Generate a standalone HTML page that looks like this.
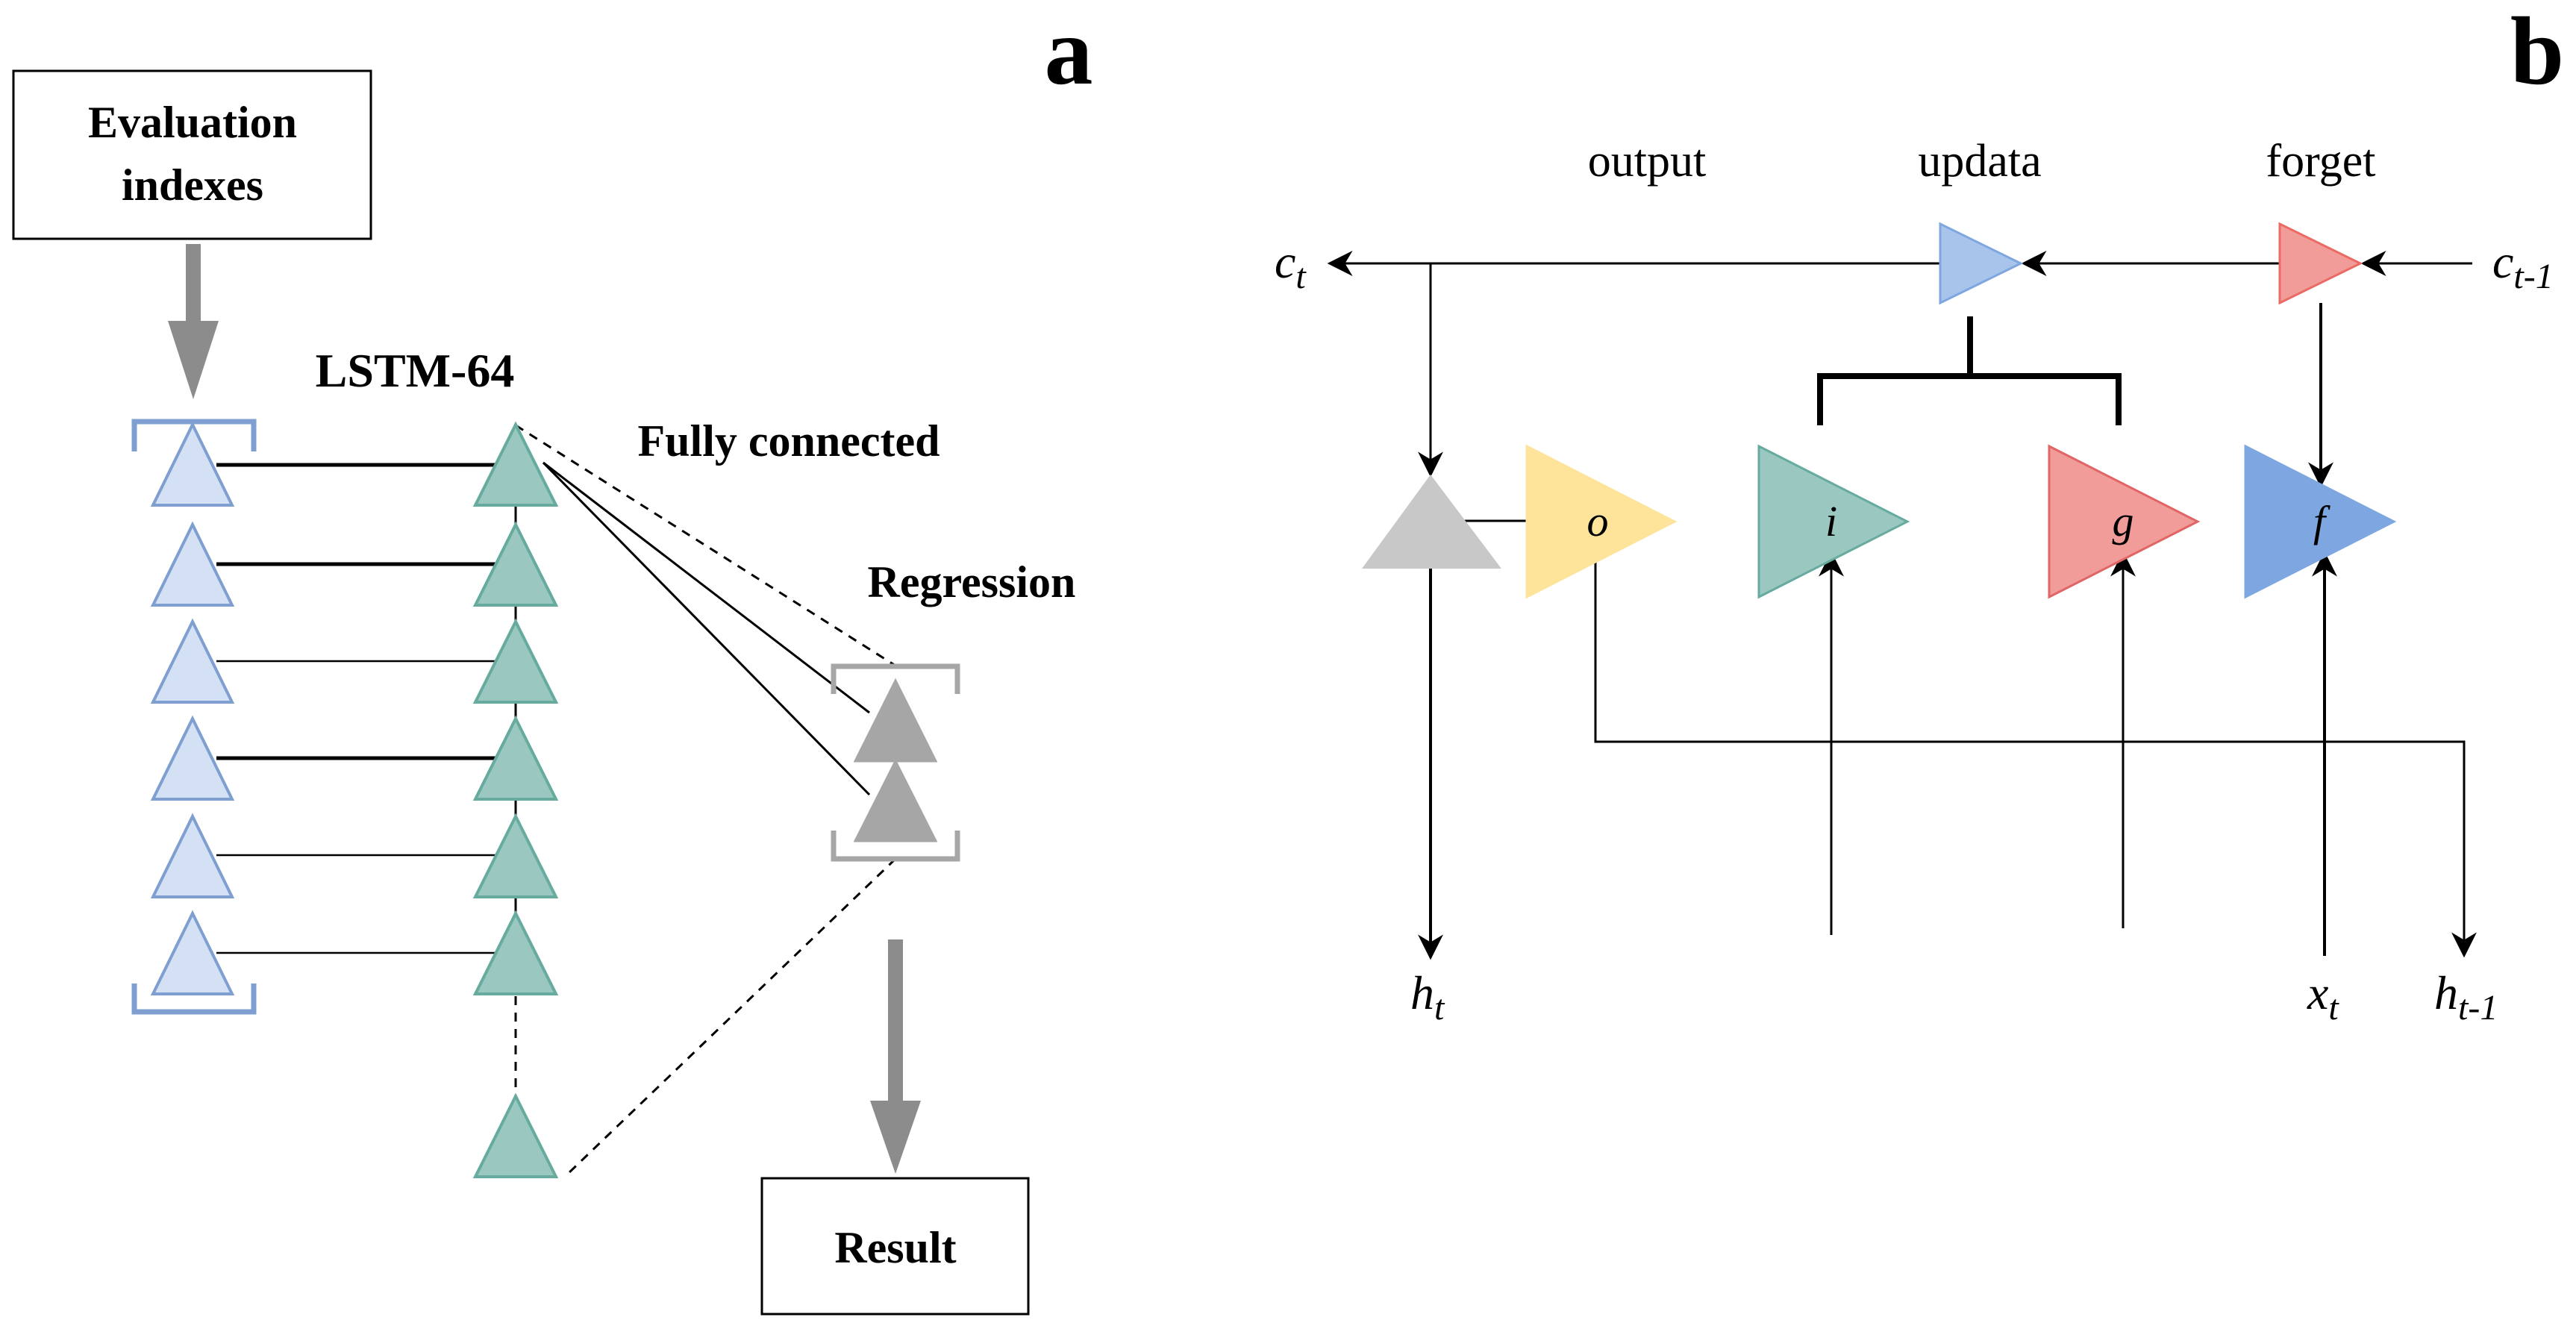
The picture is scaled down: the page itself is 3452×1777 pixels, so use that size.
<!DOCTYPE html>
<html><head><meta charset="utf-8"><style>
html,body{margin:0;padding:0;background:#fff}
svg{display:block}
svg text{font-family:"Liberation Serif","Times New Roman",serif !important}
</style></head><body>
<svg width="3452" height="1777" viewBox="0 0 3452 1777" xmlns="http://www.w3.org/2000/svg" font-family="Liberation Serif, serif">
<defs>
<marker id="ahb" viewBox="0 0 20 20" refX="18" refY="10" markerWidth="34" markerHeight="34" markerUnits="userSpaceOnUse" orient="auto">
<path d="M0,0 L20,10 L0,20 L6,10 Z" fill="#000"/>
</marker>
</defs>
<!-- Panel a -->
<rect x="18" y="95" width="479" height="225" fill="#fff" stroke="#000" stroke-width="3"/>
<text x="258" y="184" font-size="60" font-weight="bold" text-anchor="middle" font-family="Liberation Serif, serif">Evaluation</text>
<text x="258" y="268" font-size="60" font-weight="bold" text-anchor="middle" font-family="Liberation Serif, serif">indexes</text>
<text x="1432" y="112" font-size="130" font-weight="bold" text-anchor="middle" font-family="Liberation Serif, serif">a</text>

<rect x="249" y="327" width="20" height="110" fill="#8c8c8c"/>
<polygon points="225,430 293,430 259,535" fill="#8c8c8c"/>

<text x="556" y="518" font-size="64" font-weight="bold" text-anchor="middle" font-family="Liberation Serif, serif">LSTM-64</text>
<text x="1057" y="611" font-size="60" font-weight="bold" text-anchor="middle" font-family="Liberation Serif, serif">Fully connected</text>
<text x="1302" y="800" font-size="60" font-weight="bold" text-anchor="middle" font-family="Liberation Serif, serif">Regression</text>

<path d="M180,605 V565 H340 V605" fill="none" stroke="#7e9fd0" stroke-width="7"/>
<path d="M180,1318 V1356 H340 V1318" fill="none" stroke="#7e9fd0" stroke-width="7"/>

<g stroke="#000">
<line x1="290" y1="623" x2="670" y2="623" stroke-width="5"/>
<line x1="290" y1="756" x2="670" y2="756" stroke-width="5"/>
<line x1="290" y1="886" x2="670" y2="886" stroke-width="2.5"/>
<line x1="290" y1="1016" x2="670" y2="1016" stroke-width="5"/>
<line x1="290" y1="1146" x2="670" y2="1146" stroke-width="2.5"/>
<line x1="290" y1="1277" x2="670" y2="1277" stroke-width="2.5"/>
<line x1="691" y1="600" x2="691" y2="1330" stroke-width="3"/>
<line x1="691" y1="1335" x2="691" y2="1470" stroke-width="3" stroke-dasharray="12,10"/>
<line x1="691" y1="570" x2="1200" y2="892" stroke-width="3" stroke-dasharray="12,10"/>
<line x1="728" y1="620" x2="1165" y2="955" stroke-width="3"/>
<line x1="728" y1="620" x2="1165" y2="1065" stroke-width="3"/>
<line x1="1200" y1="1151" x2="762" y2="1572" stroke-width="3" stroke-dasharray="12,10"/>
</g>

<g fill="#d4e1f5" stroke="#7e9fd0" stroke-width="4">
<polygon points="258,569 205,677 311,677"/>
<polygon points="258,703 205,811 311,811"/>
<polygon points="258,833 205,941 311,941"/>
<polygon points="258,963 205,1071 311,1071"/>
<polygon points="258,1094 205,1202 311,1202"/>
<polygon points="258,1224 205,1332 311,1332"/>
</g>
<g fill="#9ac7bf" stroke="#67ab9f" stroke-width="4">
<polygon points="691,569 637,677 745,677"/>
<polygon points="691,703 637,811 745,811"/>
<polygon points="691,833 637,941 745,941"/>
<polygon points="691,963 637,1071 745,1071"/>
<polygon points="691,1094 637,1202 745,1202"/>
<polygon points="691,1224 637,1332 745,1332"/>
<polygon points="691,1469 637,1577 745,1577"/>
</g>

<path d="M1117,930 V893 H1283 V930" fill="none" stroke="#a6a6a6" stroke-width="7"/>
<path d="M1117,1113 V1151 H1283 V1113" fill="none" stroke="#a6a6a6" stroke-width="7"/>
<g fill="#a6a6a6" stroke="#a6a6a6" stroke-width="3">
<polygon points="1200,912 1146,1020 1254,1020"/>
<polygon points="1200,1020 1146,1127 1254,1127"/>
</g>

<rect x="1190" y="1259" width="20" height="225" fill="#8c8c8c"/>
<polygon points="1166,1475 1234,1475 1200,1573" fill="#8c8c8c"/>
<rect x="1021" y="1579" width="357" height="182" fill="#fff" stroke="#000" stroke-width="3"/>
<text x="1200" y="1692" font-size="60" font-weight="bold" text-anchor="middle" font-family="Liberation Serif, serif">Result</text>

<!-- Panel b -->
<text x="3400" y="112" font-size="130" font-weight="bold" text-anchor="middle" font-family="Liberation Serif, serif">b</text>
<text x="2207" y="236" font-size="62" text-anchor="middle" font-family="Liberation Serif, serif">output</text>
<text x="2653" y="236" font-size="62" text-anchor="middle" font-family="Liberation Serif, serif">updata</text>
<text x="3110" y="236" font-size="62" text-anchor="middle" font-family="Liberation Serif, serif">forget</text>

<g stroke="#000" stroke-width="3" fill="none">
<line x1="2600" y1="353" x2="1782" y2="353" marker-end="url(#ahb)"/>
<line x1="3055" y1="353" x2="2712" y2="353" marker-end="url(#ahb)"/>
<line x1="3313" y1="353" x2="3167" y2="353" marker-end="url(#ahb)"/>
<line x1="1917" y1="353" x2="1917" y2="636" marker-end="url(#ahb)"/>
<line x1="3110" y1="406" x2="3110" y2="650" stroke-width="4" marker-end="url(#ahb)"/>
<line x1="1960" y1="698" x2="2046" y2="698"/>
<line x1="1917" y1="762" x2="1917" y2="1283" stroke-width="4" marker-end="url(#ahb)"/>
<polyline points="2138,752 2138,994 3302,994 3302,1280" marker-end="url(#ahb)"/>
<line x1="2454" y1="1253" x2="2454" y2="742" marker-end="url(#ahb)"/>
<line x1="2845" y1="1244" x2="2845" y2="742" marker-end="url(#ahb)"/>
<line x1="3115" y1="1281" x2="3115" y2="742" stroke-width="4" marker-end="url(#ahb)"/>
<path d="M2640,424 V504 M2439,570 V504 H2839 V570" stroke-width="8"/>
</g>

<polygon points="2600,300 2600,406 2708,353" fill="#a9c4eb" stroke="#7ea6e0" stroke-width="3"/>
<polygon points="3055,300 3055,406 3163,353" fill="#f19c99" stroke="#ea6b66" stroke-width="3"/>

<polygon points="1917,636 1825,762 2012,762" fill="#c8c8c8"/>
<polygon points="2046,598 2046,800 2244,699" fill="#fde49a" stroke="#fde49a" stroke-width="3"/>
<polygon points="2357,598 2357,800 2556,699" fill="#9ac7bf" stroke="#67ab9f" stroke-width="3"/>
<polygon points="2746,598 2746,800 2945,699" fill="#f19c99" stroke="#e06666" stroke-width="3"/>
<polygon points="3009,598 3009,800 3208,699" fill="#7ea6e0" stroke="#7ea6e0" stroke-width="3"/>

<g font-size="58" font-style="italic" text-anchor="middle" font-family="Liberation Serif, serif">
<text x="2141" y="718">o</text>
<text x="2454" y="718">i</text>
<text x="2845" y="718">g</text>
<text x="3108" y="718">f</text>
</g>

<g font-size="64" font-style="italic" font-family="Liberation Serif, serif">
<text x="1708" y="372">c<tspan font-size="48" dy="14">t</tspan></text>
<text x="3340" y="372">c<tspan font-size="48" dy="14">t-1</tspan></text>
<text x="1890" y="1352">h<tspan font-size="48" dy="14">t</tspan></text>
<text x="3092" y="1352">x<tspan font-size="48" dy="14">t</tspan></text>
<text x="3262" y="1352">h<tspan font-size="48" dy="14">t-1</tspan></text>
</g>
</svg>
</body></html>
